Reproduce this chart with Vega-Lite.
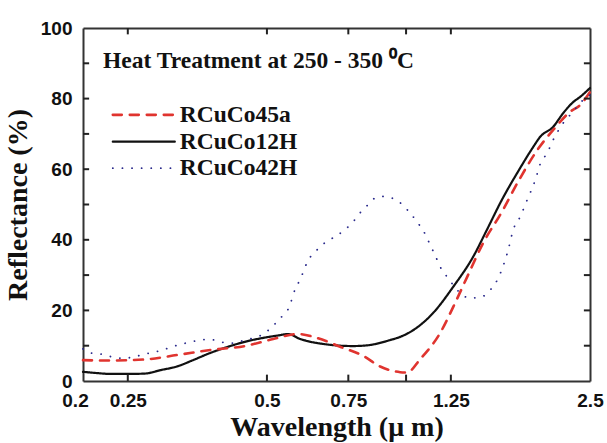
{
  "$schema": "https://vega.github.io/schema/vega-lite/v6.json",
  "width": 507,
  "height": 353,
  "autosize": {"type": "none"},
  "padding": {"left": 83, "top": 28, "right": 17, "bottom": 62},
  "background": "white",
  "config": {
    "view": {"stroke": null},
    "axis": {
      "grid": false,
      "domainColor": "#333333",
      "domainWidth": 2,
      "ticks": false,
      "tickSize": 0,
      "labelFont": "Liberation Sans",
      "labelFontWeight": "bold",
      "labelFontSize": 19,
      "labelColor": "#111111",
      "titleFont": "Liberation Serif",
      "titleFontWeight": "bold",
      "titleFontSize": 28,
      "titleColor": "#111111"
    }
  },
  "datasets": {
    "spectra": [
      {"s": "RCuCo12H", "w": 0.200, "r": 2.6},
      {"s": "RCuCo12H", "w": 0.212, "r": 2.3},
      {"s": "RCuCo12H", "w": 0.230, "r": 2.0},
      {"s": "RCuCo12H", "w": 0.250, "r": 2.0},
      {"s": "RCuCo12H", "w": 0.272, "r": 2.1},
      {"s": "RCuCo12H", "w": 0.295, "r": 3.1},
      {"s": "RCuCo12H", "w": 0.321, "r": 4.2},
      {"s": "RCuCo12H", "w": 0.343, "r": 5.7},
      {"s": "RCuCo12H", "w": 0.378, "r": 8.0},
      {"s": "RCuCo12H", "w": 0.412, "r": 9.7},
      {"s": "RCuCo12H", "w": 0.448, "r": 11.1},
      {"s": "RCuCo12H", "w": 0.495, "r": 12.3},
      {"s": "RCuCo12H", "w": 0.529, "r": 12.9},
      {"s": "RCuCo12H", "w": 0.556, "r": 13.3},
      {"s": "RCuCo12H", "w": 0.590, "r": 11.9},
      {"s": "RCuCo12H", "w": 0.661, "r": 10.5},
      {"s": "RCuCo12H", "w": 0.768, "r": 9.9},
      {"s": "RCuCo12H", "w": 0.824, "r": 10.1},
      {"s": "RCuCo12H", "w": 0.924, "r": 11.6},
      {"s": "RCuCo12H", "w": 0.971, "r": 12.5},
      {"s": "RCuCo12H", "w": 1.036, "r": 14.4},
      {"s": "RCuCo12H", "w": 1.145, "r": 19.3},
      {"s": "RCuCo12H", "w": 1.265, "r": 26.7},
      {"s": "RCuCo12H", "w": 1.397, "r": 35.2},
      {"s": "RCuCo12H", "w": 1.498, "r": 43.0},
      {"s": "RCuCo12H", "w": 1.610, "r": 51.2},
      {"s": "RCuCo12H", "w": 1.750, "r": 59.5},
      {"s": "RCuCo12H", "w": 1.884, "r": 66.3},
      {"s": "RCuCo12H", "w": 1.951, "r": 69.2},
      {"s": "RCuCo12H", "w": 2.081, "r": 72.0},
      {"s": "RCuCo12H", "w": 2.188, "r": 75.9},
      {"s": "RCuCo12H", "w": 2.299, "r": 79.0},
      {"s": "RCuCo12H", "w": 2.381, "r": 80.5},
      {"s": "RCuCo12H", "w": 2.500, "r": 83.0},

      {"s": "RCuCo45a", "w": 0.200, "r": 5.9},
      {"s": "RCuCo45a", "w": 0.230, "r": 5.8},
      {"s": "RCuCo45a", "w": 0.272, "r": 6.1},
      {"s": "RCuCo45a", "w": 0.321, "r": 7.4},
      {"s": "RCuCo45a", "w": 0.378, "r": 8.8},
      {"s": "RCuCo45a", "w": 0.448, "r": 9.9},
      {"s": "RCuCo45a", "w": 0.516, "r": 11.9},
      {"s": "RCuCo45a", "w": 0.584, "r": 13.3},
      {"s": "RCuCo45a", "w": 0.642, "r": 12.2},
      {"s": "RCuCo45a", "w": 0.720, "r": 9.7},
      {"s": "RCuCo45a", "w": 0.808, "r": 7.1},
      {"s": "RCuCo45a", "w": 0.879, "r": 4.1},
      {"s": "RCuCo45a", "w": 0.971, "r": 2.5},
      {"s": "RCuCo45a", "w": 1.005, "r": 2.4},
      {"s": "RCuCo45a", "w": 1.073, "r": 6.2},
      {"s": "RCuCo45a", "w": 1.185, "r": 13.6},
      {"s": "RCuCo45a", "w": 1.265, "r": 21.0},
      {"s": "RCuCo45a", "w": 1.356, "r": 29.5},
      {"s": "RCuCo45a", "w": 1.468, "r": 39.1},
      {"s": "RCuCo45a", "w": 1.610, "r": 47.8},
      {"s": "RCuCo45a", "w": 1.750, "r": 56.6},
      {"s": "RCuCo45a", "w": 1.922, "r": 65.4},
      {"s": "RCuCo45a", "w": 2.081, "r": 71.1},
      {"s": "RCuCo45a", "w": 2.265, "r": 76.3},
      {"s": "RCuCo45a", "w": 2.381, "r": 78.2},
      {"s": "RCuCo45a", "w": 2.500, "r": 81.9},

      {"s": "RCuCo42H", "w": 0.200, "r": 9.1},
      {"s": "RCuCo42H", "w": 0.207, "r": 8.0},
      {"s": "RCuCo42H", "w": 0.219, "r": 7.6},
      {"s": "RCuCo42H", "w": 0.230, "r": 6.9},
      {"s": "RCuCo42H", "w": 0.244, "r": 6.4},
      {"s": "RCuCo42H", "w": 0.259, "r": 6.9},
      {"s": "RCuCo42H", "w": 0.272, "r": 7.6},
      {"s": "RCuCo42H", "w": 0.288, "r": 8.3},
      {"s": "RCuCo42H", "w": 0.306, "r": 9.3},
      {"s": "RCuCo42H", "w": 0.321, "r": 10.2},
      {"s": "RCuCo42H", "w": 0.341, "r": 11.0},
      {"s": "RCuCo42H", "w": 0.358, "r": 11.6},
      {"s": "RCuCo42H", "w": 0.376, "r": 11.8},
      {"s": "RCuCo42H", "w": 0.396, "r": 11.1},
      {"s": "RCuCo42H", "w": 0.418, "r": 10.7},
      {"s": "RCuCo42H", "w": 0.448, "r": 11.6},
      {"s": "RCuCo42H", "w": 0.495, "r": 13.6},
      {"s": "RCuCo42H", "w": 0.516, "r": 15.7},
      {"s": "RCuCo42H", "w": 0.542, "r": 18.7},
      {"s": "RCuCo42H", "w": 0.561, "r": 21.5},
      {"s": "RCuCo42H", "w": 0.570, "r": 24.6},
      {"s": "RCuCo42H", "w": 0.584, "r": 27.6},
      {"s": "RCuCo42H", "w": 0.598, "r": 30.6},
      {"s": "RCuCo42H", "w": 0.611, "r": 33.7},
      {"s": "RCuCo42H", "w": 0.636, "r": 36.6},
      {"s": "RCuCo42H", "w": 0.668, "r": 39.2},
      {"s": "RCuCo42H", "w": 0.702, "r": 40.9},
      {"s": "RCuCo42H", "w": 0.738, "r": 42.9},
      {"s": "RCuCo42H", "w": 0.768, "r": 45.1},
      {"s": "RCuCo42H", "w": 0.796, "r": 47.7},
      {"s": "RCuCo42H", "w": 0.824, "r": 49.7},
      {"s": "RCuCo42H", "w": 0.849, "r": 51.5},
      {"s": "RCuCo42H", "w": 0.888, "r": 52.3},
      {"s": "RCuCo42H", "w": 0.933, "r": 51.8},
      {"s": "RCuCo42H", "w": 0.981, "r": 50.0},
      {"s": "RCuCo42H", "w": 1.021, "r": 47.5},
      {"s": "RCuCo42H", "w": 1.062, "r": 44.7},
      {"s": "RCuCo42H", "w": 1.100, "r": 41.6},
      {"s": "RCuCo42H", "w": 1.128, "r": 38.5},
      {"s": "RCuCo42H", "w": 1.156, "r": 35.6},
      {"s": "RCuCo42H", "w": 1.185, "r": 32.4},
      {"s": "RCuCo42H", "w": 1.227, "r": 29.5},
      {"s": "RCuCo42H", "w": 1.265, "r": 27.2},
      {"s": "RCuCo42H", "w": 1.322, "r": 24.4},
      {"s": "RCuCo42H", "w": 1.376, "r": 23.5},
      {"s": "RCuCo42H", "w": 1.461, "r": 23.9},
      {"s": "RCuCo42H", "w": 1.521, "r": 25.8},
      {"s": "RCuCo42H", "w": 1.575, "r": 28.6},
      {"s": "RCuCo42H", "w": 1.622, "r": 32.6},
      {"s": "RCuCo42H", "w": 1.663, "r": 37.1},
      {"s": "RCuCo42H", "w": 1.705, "r": 42.8},
      {"s": "RCuCo42H", "w": 1.765, "r": 46.5},
      {"s": "RCuCo42H", "w": 1.828, "r": 51.3},
      {"s": "RCuCo42H", "w": 1.903, "r": 56.9},
      {"s": "RCuCo42H", "w": 1.951, "r": 61.5},
      {"s": "RCuCo42H", "w": 2.020, "r": 64.6},
      {"s": "RCuCo42H", "w": 2.081, "r": 68.3},
      {"s": "RCuCo42H", "w": 2.188, "r": 73.1},
      {"s": "RCuCo42H", "w": 2.299, "r": 76.3},
      {"s": "RCuCo42H", "w": 2.381, "r": 78.8},
      {"s": "RCuCo42H", "w": 2.500, "r": 81.0}
    ],
    "xticks": [
      {"w": 0.25, "r": 0, "r2": 1.8},
      {"w": 0.5, "r": 0, "r2": 1.8},
      {"w": 0.75, "r": 0, "r2": 1.8},
      {"w": 1, "r": 0, "r2": 1.8},
      {"w": 1.25, "r": 0, "r2": 1.8},
      {"w": 0.25, "r": 98.2, "r2": 100},
      {"w": 0.5, "r": 98.2, "r2": 100},
      {"w": 0.75, "r": 98.2, "r2": 100},
      {"w": 1, "r": 98.2, "r2": 100},
      {"w": 1.25, "r": 98.2, "r2": 100}
    ],
    "yticks": [
      {"w": 0.2, "w2": 0.2062, "r": 10},
      {"w": 0.2, "w2": 0.2062, "r": 20},
      {"w": 0.2, "w2": 0.2062, "r": 30},
      {"w": 0.2, "w2": 0.2062, "r": 40},
      {"w": 0.2, "w2": 0.2062, "r": 50},
      {"w": 0.2, "w2": 0.2062, "r": 60},
      {"w": 0.2, "w2": 0.2062, "r": 70},
      {"w": 0.2, "w2": 0.2062, "r": 80},
      {"w": 0.2, "w2": 0.2062, "r": 90},
      {"w": 2.425, "w2": 2.5, "r": 10},
      {"w": 2.425, "w2": 2.5, "r": 20},
      {"w": 2.425, "w2": 2.5, "r": 30},
      {"w": 2.425, "w2": 2.5, "r": 40},
      {"w": 2.425, "w2": 2.5, "r": 50},
      {"w": 2.425, "w2": 2.5, "r": 60},
      {"w": 2.425, "w2": 2.5, "r": 70},
      {"w": 2.425, "w2": 2.5, "r": 80},
      {"w": 2.425, "w2": 2.5, "r": 90}
    ],
    "keys": [
      {"s": "RCuCo45a", "w": 0.232, "w2": 0.316, "r": 75.4, "lw": 0.324},
      {"s": "RCuCo12H", "w": 0.232, "w2": 0.316, "r": 67.8, "lw": 0.324},
      {"s": "RCuCo42H", "w": 0.232, "w2": 0.316, "r": 60.3, "lw": 0.324}
    ],
    "note": [
      {"w": 0.221, "r": 90.7, "t": "Heat Treatment at 250 - 350 ⁰C"}
    ]
  },
  "layer": [
    {
      "data": {"name": "spectra"},
      "mark": {"type": "line", "interpolate": "monotone", "strokeCap": "round", "strokeJoin": "round"},
      "encoding": {
        "x": {
          "field": "w", "type": "quantitative",
          "scale": {"type": "log", "domain": [0.2, 2.5], "nice": false},
          "axis": {
            "orient": "bottom",
            "title": "Wavelength (μ m)",
            "titlePadding": 3,
            "values": [0.2, 0.25, 0.5, 0.75, 1, 1.25, 2.5],
            "labelExpr": "datum.value == 1 ? '' : '' + datum.value",
            "labelFlush": false,
            "labelOverlap": false,
            "labelBound": false,
            "labelPadding": 10,
            "labelOffset": {"condition": {"test": "datum.value == 0.2", "value": -8}, "value": 0}
          }
        },
        "y": {
          "field": "r", "type": "quantitative",
          "scale": {"domain": [0, 100], "nice": false},
          "axis": {
            "orient": "left",
            "title": "Reflectance (%)",
            "titlePadding": 8,
            "values": [0, 20, 40, 60, 80, 100],
            "labelFlush": false,
            "labelOverlap": false,
            "labelPadding": 11
          }
        },
        "color": {
          "field": "s", "type": "nominal",
          "scale": {"domain": ["RCuCo45a", "RCuCo12H", "RCuCo42H"], "range": ["#e0342f", "#111111", "#2a2a8c"]},
          "legend": null
        },
        "strokeDash": {
          "field": "s", "type": "nominal",
          "scale": {"domain": ["RCuCo45a", "RCuCo12H", "RCuCo42H"], "range": [[9, 8], [1, 0], [0.1, 9.5]]},
          "legend": null
        },
        "strokeWidth": {
          "field": "s", "type": "ordinal",
          "scale": {"domain": ["RCuCo45a", "RCuCo12H", "RCuCo42H"], "range": [2.6, 1.8, 3.2]},
          "legend": null
        }
      }
    },
    {
      "data": {"name": "xticks"},
      "mark": {"type": "rule", "stroke": "#222222", "strokeWidth": 2},
      "encoding": {
        "x": {
          "field": "w", "type": "quantitative",
          "axis": {"orient": "top", "title": null, "labels": false}
        },
        "y": {
          "field": "r", "type": "quantitative",
          "axis": {"orient": "right", "title": null, "labels": false}
        },
        "y2": {"field": "r2"}
      }
    },
    {
      "data": {"name": "yticks"},
      "mark": {"type": "rule", "stroke": "#222222", "strokeWidth": 2},
      "encoding": {
        "x": {"field": "w", "type": "quantitative", "axis": null},
        "x2": {"field": "w2"},
        "y": {"field": "r", "type": "quantitative", "axis": null}
      }
    },
    {
      "data": {"name": "keys"},
      "mark": {"type": "rule", "strokeCap": "round"},
      "encoding": {
        "x": {"field": "w", "type": "quantitative", "axis": null},
        "x2": {"field": "w2"},
        "y": {"field": "r", "type": "quantitative", "axis": null},
        "color": {"field": "s", "type": "nominal", "legend": null},
        "strokeDash": {"field": "s", "type": "nominal", "legend": null},
        "strokeWidth": {"field": "s", "type": "ordinal", "legend": null}
      }
    },
    {
      "data": {"name": "keys"},
      "mark": {"type": "text", "align": "left", "baseline": "middle", "font": "Liberation Serif", "fontWeight": "bold", "fontSize": 23.5, "color": "#111111"},
      "encoding": {
        "x": {"field": "lw", "type": "quantitative", "axis": null},
        "y": {"field": "r", "type": "quantitative", "axis": null},
        "text": {"field": "s"}
      }
    },
    {
      "data": {"name": "note"},
      "mark": {"type": "text", "align": "left", "baseline": "middle", "font": "Liberation Serif", "fontWeight": "bold", "fontSize": 23.5, "color": "#111111"},
      "encoding": {
        "x": {"field": "w", "type": "quantitative", "axis": null},
        "y": {"field": "r", "type": "quantitative", "axis": null},
        "text": {"field": "t"}
      }
    }
  ],
  "resolve": {"axis": {"x": "independent", "y": "independent"}}
}
